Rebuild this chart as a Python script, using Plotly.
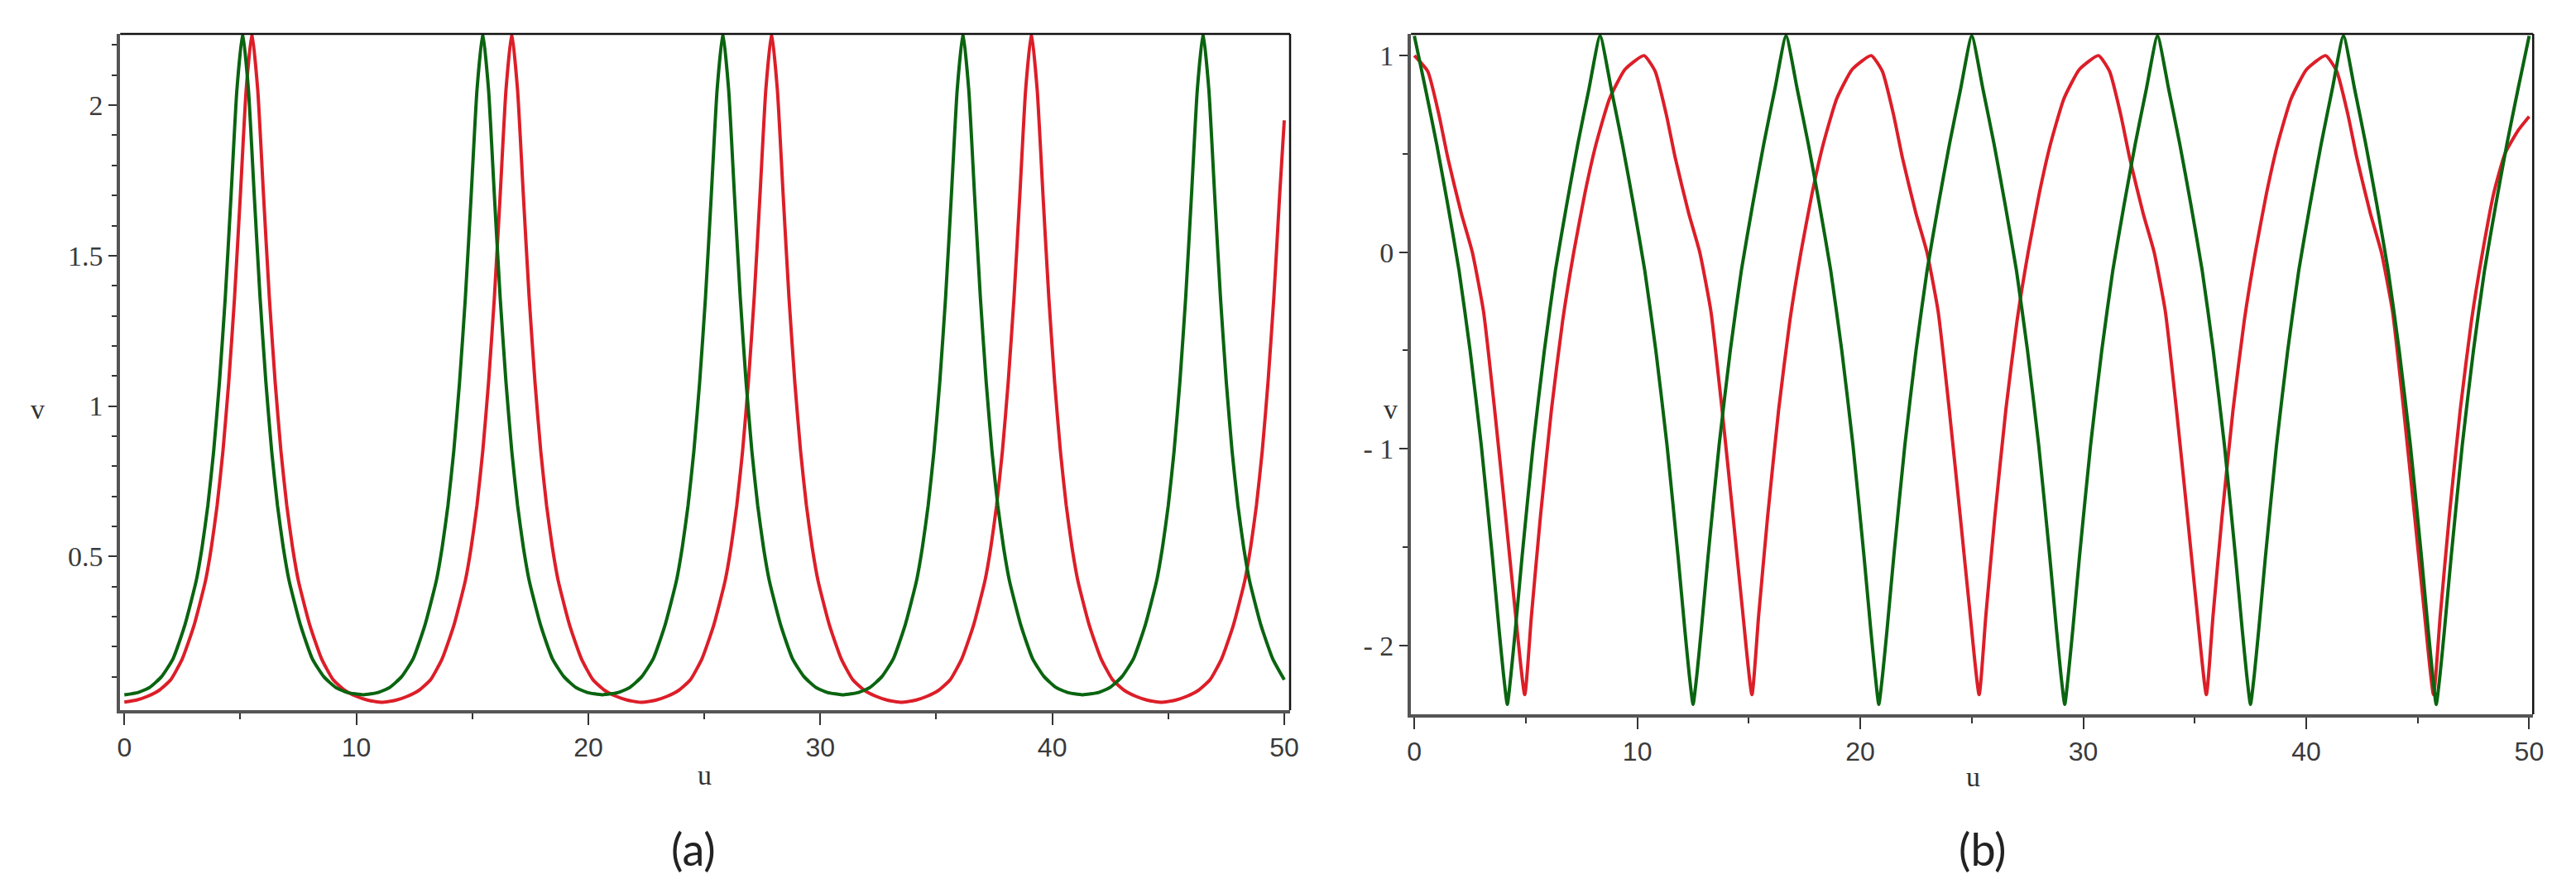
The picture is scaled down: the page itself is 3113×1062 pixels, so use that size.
import plotly.graph_objects as go

# ---------------- panel (a) data ----------------
ua_green = [0, 0.6, 1.1, 1.6, 2.1, 2.6, 3.1, 3.35, 3.6, 3.85, 4.1, 4.35, 4.6, 4.85, 5.1,
            5.35, 5.6, 5.85, 6.1, 6.35, 6.6, 6.85, 7.1, 7.6, 8.1, 8.6, 9.1, 9.6, 10.3,
            10.95, 11.45, 11.95, 12.45, 12.95, 13.45, 13.7, 13.95, 14.2, 14.45, 14.7, 14.95, 15.2, 15.45,
            15.7, 15.95, 16.2, 16.45, 16.7, 16.95, 17.2, 17.45, 17.95, 18.45, 18.95, 19.45, 19.95, 20.6,
            21.3, 21.8, 22.3, 22.8, 23.3, 23.8, 24.05, 24.3, 24.55, 24.8, 25.05, 25.3, 25.55, 25.8,
            26.05, 26.3, 26.55, 26.8, 27.05, 27.3, 27.55, 27.8, 28.3, 28.8, 29.3, 29.8, 30.3, 31.0,
            31.65, 32.15, 32.65, 33.15, 33.65, 34.15, 34.4, 34.65, 34.9, 35.15, 35.4, 35.65, 35.9, 36.15,
            36.4, 36.65, 36.9, 37.15, 37.4, 37.65, 37.9, 38.15, 38.65, 39.15, 39.65, 40.15, 40.65, 41.3,
            42.0, 42.5, 43.0, 43.5, 44.0, 44.5, 44.75, 45.0, 45.25, 45.5, 45.75, 46.0, 46.25, 46.5,
            46.75, 47.0, 47.25, 47.5, 47.75, 48.0, 48.25, 48.5, 49.0, 49.5, 50.0]
va_green = [0.04, 0.048, 0.065, 0.10, 0.16, 0.27, 0.42, 0.53, 0.67, 0.85, 1.08, 1.36, 1.70, 2.05, 2.24,
            2.05, 1.70, 1.36, 1.08, 0.85, 0.67, 0.53, 0.42, 0.27, 0.16, 0.10, 0.065, 0.048, 0.04,
            0.048, 0.065, 0.10, 0.16, 0.27, 0.42, 0.53, 0.67, 0.85, 1.08, 1.36, 1.70, 2.05, 2.24,
            2.05, 1.70, 1.36, 1.08, 0.85, 0.67, 0.53, 0.42, 0.27, 0.16, 0.10, 0.065, 0.048, 0.04,
            0.048, 0.065, 0.10, 0.16, 0.27, 0.42, 0.53, 0.67, 0.85, 1.08, 1.36, 1.70, 2.05, 2.24,
            2.05, 1.70, 1.36, 1.08, 0.85, 0.67, 0.53, 0.42, 0.27, 0.16, 0.10, 0.065, 0.048, 0.04,
            0.048, 0.065, 0.10, 0.16, 0.27, 0.42, 0.53, 0.67, 0.85, 1.08, 1.36, 1.70, 2.05, 2.24,
            2.05, 1.70, 1.36, 1.08, 0.85, 0.67, 0.53, 0.42, 0.27, 0.16, 0.10, 0.065, 0.048, 0.04,
            0.048, 0.065, 0.10, 0.16, 0.27, 0.42, 0.53, 0.67, 0.85, 1.08, 1.36, 1.70, 2.05, 2.24,
            2.05, 1.70, 1.36, 1.08, 0.85, 0.67, 0.53, 0.42, 0.27, 0.16, 0.09]

ua_red = [0, 0.5, 1.0, 1.5, 2.0, 2.5, 3.0, 3.5, 3.75, 4.0, 4.25, 4.5, 4.75, 5.0, 5.25, 5.5,
          5.75, 6.0, 6.25, 6.5, 6.75, 7.0, 7.25, 7.5, 8.0, 8.5, 9.0, 9.5, 10.0, 10.5, 11.1,
          11.7, 12.2, 12.7, 13.2, 13.7, 14.2, 14.7, 14.95, 15.2, 15.45, 15.7, 15.95, 16.2, 16.45, 16.7,
          16.95, 17.2, 17.45, 17.7, 17.95, 18.2, 18.45, 18.7, 19.2, 19.7, 20.2, 20.7, 21.2, 21.7, 22.3,
          22.9, 23.4, 23.9, 24.4, 24.9, 25.4, 25.9, 26.15, 26.4, 26.65, 26.9, 27.15, 27.4, 27.65, 27.9,
          28.15, 28.4, 28.65, 28.9, 29.15, 29.4, 29.65, 29.9, 30.4, 30.9, 31.4, 31.9, 32.4, 32.9, 33.5,
          34.1, 34.6, 35.1, 35.6, 36.1, 36.6, 37.1, 37.35, 37.6, 37.85, 38.1, 38.35, 38.6, 38.85, 39.1,
          39.35, 39.6, 39.85, 40.1, 40.35, 40.6, 40.85, 41.1, 41.6, 42.1, 42.6, 43.1, 43.6, 44.1, 44.7,
          45.3, 45.8, 46.3, 46.8, 47.3, 47.8, 48.3, 48.55, 48.8, 49.05, 49.3, 49.55, 49.8, 50.0]
va_red = [0.016, 0.022, 0.035, 0.055, 0.09, 0.16, 0.27, 0.42, 0.53, 0.67, 0.85, 1.08, 1.36, 1.70, 2.05, 2.24,
          2.05, 1.70, 1.36, 1.08, 0.85, 0.67, 0.53, 0.42, 0.27, 0.16, 0.09, 0.055, 0.035, 0.022, 0.015,
          0.022, 0.035, 0.055, 0.09, 0.16, 0.27, 0.42, 0.53, 0.67, 0.85, 1.08, 1.36, 1.70, 2.05, 2.24,
          2.05, 1.70, 1.36, 1.08, 0.85, 0.67, 0.53, 0.42, 0.27, 0.16, 0.09, 0.055, 0.035, 0.022, 0.015,
          0.022, 0.035, 0.055, 0.09, 0.16, 0.27, 0.42, 0.53, 0.67, 0.85, 1.08, 1.36, 1.70, 2.05, 2.24,
          2.05, 1.70, 1.36, 1.08, 0.85, 0.67, 0.53, 0.42, 0.27, 0.16, 0.09, 0.055, 0.035, 0.022, 0.015,
          0.022, 0.035, 0.055, 0.09, 0.16, 0.27, 0.42, 0.53, 0.67, 0.85, 1.08, 1.36, 1.70, 2.05, 2.24,
          2.05, 1.70, 1.36, 1.08, 0.85, 0.67, 0.53, 0.42, 0.27, 0.16, 0.09, 0.055, 0.035, 0.022, 0.015,
          0.022, 0.035, 0.055, 0.09, 0.16, 0.27, 0.42, 0.53, 0.67, 0.85, 1.08, 1.36, 1.70, 1.95]

# ---------------- panel (b) data ----------------
ub_green = [0, 0.5, 1.0, 1.5, 2.0, 2.5, 3.0, 3.5, 3.8, 4.0, 4.17, 4.33, 4.53, 4.83, 5.33, 5.83, 6.33, 6.83, 7.33, 7.83,
            8.33, 8.83, 9.33, 9.83, 10.33, 10.83, 11.33, 11.83, 12.13, 12.33, 12.5, 12.67, 12.87, 13.17, 13.67, 14.17, 14.67, 15.17, 15.67, 16.17,
            16.67, 17.17, 17.67, 18.17, 18.67, 19.17, 19.67, 20.17, 20.47, 20.67, 20.83, 21.0, 21.2, 21.5, 22.0, 22.5, 23.0, 23.5, 24.0, 24.5,
            25.0, 25.5, 26.0, 26.5, 27.0, 27.5, 28.0, 28.5, 28.8, 29.0, 29.17, 29.33, 29.53, 29.83, 30.33, 30.83, 31.33, 31.83, 32.33, 32.83,
            33.33, 33.83, 34.33, 34.83, 35.33, 35.83, 36.33, 36.83, 37.13, 37.33, 37.5, 37.67, 37.87, 38.17, 38.67, 39.17, 39.67, 40.17, 40.67, 41.17,
            41.67, 42.17, 42.67, 43.17, 43.67, 44.17, 44.67, 45.17, 45.47, 45.67, 45.83, 46.0, 46.2, 46.5, 47.0, 47.5, 48.0, 48.5, 49.0, 49.5,
            50.0]
vb_green = [1.1, 0.83, 0.55, 0.24, -0.09, -0.5, -0.98, -1.55, -1.92, -2.15, -2.3, -2.15, -1.92, -1.55, -0.98, -0.5, -0.09, 0.24, 0.55, 0.83,
            1.1, 0.83, 0.55, 0.24, -0.09, -0.5, -0.98, -1.55, -1.92, -2.15, -2.3, -2.15, -1.92, -1.55, -0.98, -0.5, -0.09, 0.24, 0.55, 0.83,
            1.1, 0.83, 0.55, 0.24, -0.09, -0.5, -0.98, -1.55, -1.92, -2.15, -2.3, -2.15, -1.92, -1.55, -0.98, -0.5, -0.09, 0.24, 0.55, 0.83,
            1.1, 0.83, 0.55, 0.24, -0.09, -0.5, -0.98, -1.55, -1.92, -2.15, -2.3, -2.15, -1.92, -1.55, -0.98, -0.5, -0.09, 0.24, 0.55, 0.83,
            1.1, 0.83, 0.55, 0.24, -0.09, -0.5, -0.98, -1.55, -1.92, -2.15, -2.3, -2.15, -1.92, -1.55, -0.98, -0.5, -0.09, 0.24, 0.55, 0.83,
            1.1, 0.83, 0.55, 0.24, -0.09, -0.5, -0.98, -1.55, -1.92, -2.15, -2.3, -2.15, -1.92, -1.55, -0.98, -0.5, -0.09, 0.24, 0.55, 0.83,
            1.1]

ub_red = [0, 0.6, 1.1, 1.5, 2.1, 2.6, 3.1, 3.6, 4.1, 4.5, 4.95,
          5.25, 5.65, 6.15, 6.65, 7.15, 7.65, 8.15, 8.75, 9.45, 10.3,
          10.8, 11.3, 11.7, 12.3, 12.8, 13.3, 13.8, 14.3, 14.7, 15.14,
          15.44, 15.84, 16.34, 16.84, 17.34, 17.84, 18.34, 18.94, 19.64, 20.49,
          20.99, 21.49, 21.89, 22.49, 22.99, 23.49, 23.99, 24.49, 24.89, 25.33,
          25.63, 26.03, 26.53, 27.03, 27.53, 28.03, 28.53, 29.13, 29.83, 30.68,
          31.18, 31.68, 32.08, 32.68, 33.18, 33.68, 34.18, 34.68, 35.08, 35.52,
          35.82, 36.22, 36.72, 37.22, 37.72, 38.22, 38.72, 39.32, 40.02, 40.87,
          41.37, 41.87, 42.27, 42.87, 43.37, 43.87, 44.37, 44.87, 45.27, 45.71,
          46.01, 46.41, 46.91, 47.41, 47.91, 48.41, 48.91, 49.51, 50.0]
vb_red = [1.0, 0.92, 0.7, 0.48, 0.2, 0.0, -0.3, -0.8, -1.35, -1.8, -2.25,
          -1.85, -1.35, -0.8, -0.35, 0.0, 0.3, 0.55, 0.78, 0.93, 1.0,
          0.92, 0.7, 0.48, 0.2, 0.0, -0.3, -0.8, -1.35, -1.8, -2.25,
          -1.85, -1.35, -0.8, -0.35, 0.0, 0.3, 0.55, 0.78, 0.93, 1.0,
          0.92, 0.7, 0.48, 0.2, 0.0, -0.3, -0.8, -1.35, -1.8, -2.25,
          -1.85, -1.35, -0.8, -0.35, 0.0, 0.3, 0.55, 0.78, 0.93, 1.0,
          0.92, 0.7, 0.48, 0.2, 0.0, -0.3, -0.8, -1.35, -1.8, -2.25,
          -1.85, -1.35, -0.8, -0.35, 0.0, 0.3, 0.55, 0.78, 0.93, 1.0,
          0.92, 0.7, 0.48, 0.2, 0.0, -0.3, -0.8, -1.35, -1.8, -2.25,
          -1.85, -1.35, -0.8, -0.35, 0.0, 0.3, 0.5, 0.62, 0.69]

x_ticks = [0, 10, 20, 30, 40, 50]
x_minor = [5, 15, 25, 35, 45]
ya_ticks = [0.5, 1, 1.5, 2]
ya_labels = ["0.5", "1", "1.5", "2"]
ya_minor = [0.1, 0.2, 0.3, 0.4, 0.6, 0.7, 0.8, 0.9, 1.1, 1.2, 1.3, 1.4,
            1.6, 1.7, 1.8, 1.9, 2.1, 2.2]
yb_ticks = [-2, -1, 0, 1]
yb_labels = ["- 2", "- 1", "0", "1"]
yb_minor = [-1.5, -0.5, 0.5]

GREEN = "#0a6410"
RED = "#dc1e28"
W = 3113
H = 1062

fig = go.Figure()
line_style = dict(width=4, shape="spline", smoothing=0.5)
fig.add_trace(go.Scatter(x=ua_red, y=va_red, mode="lines", line=dict(color=RED, **line_style),
                         xaxis="x", yaxis="y", showlegend=False, hoverinfo="skip"))
fig.add_trace(go.Scatter(x=ua_green, y=va_green, mode="lines", line=dict(color=GREEN, **line_style),
                         xaxis="x", yaxis="y", showlegend=False, hoverinfo="skip"))
fig.add_trace(go.Scatter(x=ub_red, y=vb_red, mode="lines", line=dict(color=RED, **line_style),
                         xaxis="x2", yaxis="y2", showlegend=False, hoverinfo="skip"))
fig.add_trace(go.Scatter(x=ub_green, y=vb_green, mode="lines", line=dict(color=GREEN, **line_style),
                         xaxis="x2", yaxis="y2", showlegend=False, hoverinfo="skip"))

xfont = dict(family="Liberation Sans", size=32, color="#3a3a3a")
yfont = dict(family="Liberation Serif", size=34, color="#3a3a3a")

def xaxis_cfg(domain, rng, anchor):
    return dict(domain=domain, range=rng, anchor=anchor, tickmode="array", tickvals=x_ticks,
                ticks="outside", ticklen=14, tickwidth=2, tickcolor="#333",
                minor=dict(tickmode="array", tickvals=x_minor, ticks="outside", ticklen=7,
                           tickwidth=2, tickcolor="#333", showgrid=False),
                showline=True, linecolor="#555555", linewidth=4, showgrid=False, zeroline=False,
                tickfont=xfont, fixedrange=True)

def yaxis_cfg(domain, rng, anchor, tv, tt, mv):
    return dict(domain=domain, range=rng, anchor=anchor, tickmode="array", tickvals=tv, ticktext=tt,
                ticks="outside", ticklen=10, tickwidth=2, tickcolor="#333",
                minor=dict(tickmode="array", tickvals=mv, ticks="outside", ticklen=6,
                           tickwidth=2, tickcolor="#333", showgrid=False),
                showline=True, linecolor="#555555", linewidth=4, showgrid=False, zeroline=False,
                tickfont=yfont, fixedrange=True)

fig.update_layout(
    width=W, height=H, margin=dict(l=0, r=0, t=0, b=0),
    paper_bgcolor="white", plot_bgcolor="white",
    xaxis=xaxis_cfg([133 / W, 1555 / W], [-0.18, 50.25], "y"),
    yaxis=yaxis_cfg([1 - 850 / H, 1 - 33 / H], [-0.011, 2.237], "x", ya_ticks, ya_labels, ya_minor),
    xaxis2=xaxis_cfg([1702 / W, 3066 / W], [-0.15, 50.18], "y2"),
    yaxis2=yaxis_cfg([1 - 855 / H, 1 - 33 / H], [-2.35, 1.11], "x2", yb_ticks, yb_labels, yb_minor),
)

# frame: top and right edges (thin black)
for xr, yr in (("x domain", "y domain"), ("x2 domain", "y2 domain")):
    fig.add_shape(type="line", xref=xr, yref=yr, x0=0, x1=1, y0=1, y1=1,
                  line=dict(color="#111", width=2.5))
    fig.add_shape(type="line", xref=xr, yref=yr, x0=1, x1=1, y0=0, y1=1,
                  line=dict(color="#111", width=2.5))

lab_font = dict(family="Liberation Serif", size=34, color="#333")
cap_font = dict(family="Lato", size=54, color="#222")
annots = [
    dict(text="v", x=33 / W, y=1 - 486 / H, font=lab_font),
    dict(text="v", x=1677 / W, y=1 - 486 / H, font=lab_font),
    dict(text="u", x=843 / W, y=1 - 928 / H, font=lab_font),
    dict(text="u", x=2385 / W, y=1 - 930 / H, font=lab_font),
    dict(text="(a)", x=830 / W, y=1 - 1017 / H, font=cap_font),
    dict(text="(b)", x=2397 / W, y=1 - 1017 / H, font=cap_font),
]
for a in annots:
    fig.add_annotation(xref="paper", yref="paper", showarrow=False, xanchor="center", yanchor="middle", **a)

fig.write_html("out.html")
